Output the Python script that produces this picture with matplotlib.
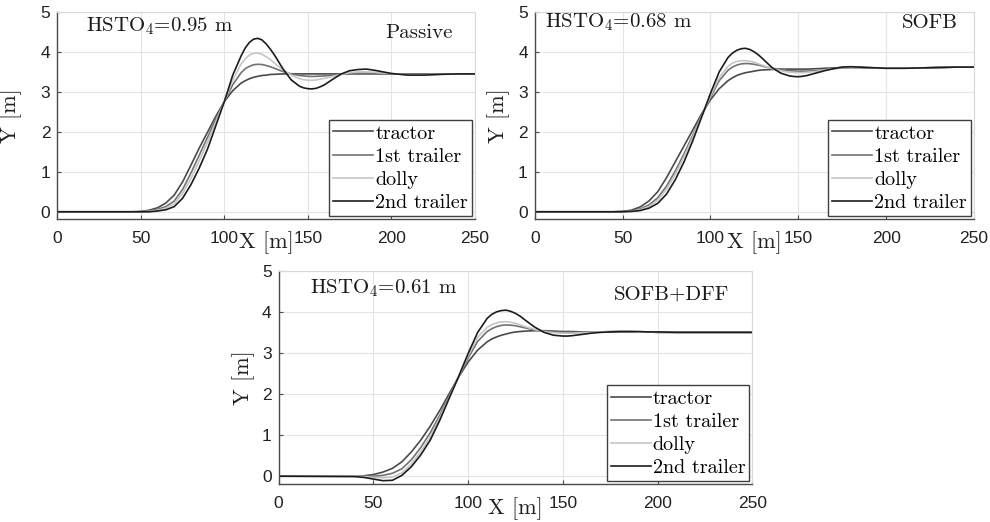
import matplotlib
matplotlib.use('Agg')
import matplotlib.pyplot as plt

plt.rcParams['mathtext.fontset'] = 'cm'

# ===========================================================================================
# DATA: lateral position Y [m] vs longitudinal X [m]

x = [0, 40, 45, 50, 55, 60, 65, 70, 75, 80, 85, 90, 95, 100, 105, 110,
     112.5, 115, 117.5, 120, 122.5, 125, 127.5, 130, 135, 140, 145,
     147.5, 150, 152.5, 155, 157.5, 160, 165, 170, 175, 180, 185, 190, 195, 200,
     210, 220, 230, 240, 250]

labels = ['tractor', '1st trailer', 'dolly', '2nd trailer']

# Passive
passive_tractor = [0, 0, 0, 0.01, 0.04, 0.10, 0.22, 0.42, 0.75, 1.17, 1.60, 2.00, 2.40, 2.76, 3.03, 3.22,
                   3.28, 3.33, 3.365, 3.39, 3.41, 3.42, 3.435, 3.44, 3.45, 3.45, 3.45,
                   3.45, 3.45, 3.45, 3.45, 3.45, 3.45, 3.45, 3.45, 3.45, 3.45, 3.45, 3.45, 3.45, 3.45,
                   3.45, 3.45, 3.45, 3.45, 3.45]
passive_trailer1 = [0, 0, 0, 0.00, 0.02, 0.06, 0.13, 0.27, 0.56, 0.97, 1.42, 1.87, 2.33, 2.76, 3.18, 3.48,
                    3.58, 3.64, 3.68, 3.69, 3.685, 3.66, 3.63, 3.59, 3.51, 3.45, 3.41,
                    3.40, 3.39, 3.385, 3.39, 3.395, 3.40, 3.42, 3.44, 3.46, 3.47, 3.47, 3.47, 3.46, 3.45,
                    3.44, 3.44, 3.45, 3.45, 3.45]
passive_dolly = [0, 0, 0, 0.00, 0.01, 0.04, 0.09, 0.20, 0.46, 0.83, 1.28, 1.75, 2.27, 2.76, 3.30, 3.70,
                 3.83, 3.92, 3.965, 3.97, 3.94, 3.88, 3.81, 3.72, 3.55, 3.42, 3.33,
                 3.305, 3.29, 3.29, 3.30, 3.32, 3.34, 3.39, 3.44, 3.48, 3.50, 3.50, 3.49, 3.47, 3.46,
                 3.43, 3.43, 3.44, 3.45, 3.45]
passive_trailer2 = [0, 0, 0, 0.00, 0.00, 0.02, 0.05, 0.13, 0.34, 0.68, 1.10, 1.58, 2.17, 2.76, 3.42, 3.90,
                    4.10, 4.24, 4.32, 4.34, 4.30, 4.20, 4.07, 3.92, 3.58, 3.30, 3.14,
                    3.10, 3.08, 3.075, 3.09, 3.13, 3.18, 3.32, 3.45, 3.53, 3.56, 3.57, 3.54, 3.50, 3.46,
                    3.42, 3.42, 3.44, 3.45, 3.45]

# SOFB
sofb_tractor = [0, 0, 0, 0.01, 0.04, 0.12, 0.27, 0.50, 0.85, 1.25, 1.65, 2.05, 2.45, 2.80, 3.08, 3.28,
                3.35, 3.41, 3.45, 3.48, 3.50, 3.52, 3.54, 3.55, 3.56, 3.57, 3.57,
                3.57, 3.57, 3.57, 3.57, 3.575, 3.58, 3.59, 3.60, 3.61, 3.61, 3.61, 3.60, 3.60, 3.60,
                3.60, 3.60, 3.61, 3.62, 3.62]
sofb_trailer1 = [0, 0, 0, 0.01, 0.02, 0.07, 0.17, 0.35, 0.64, 1.02, 1.45, 1.92, 2.40, 2.86, 3.28, 3.54,
                 3.62, 3.67, 3.70, 3.71, 3.705, 3.69, 3.67, 3.64, 3.59, 3.56, 3.53,
                 3.525, 3.52, 3.52, 3.52, 3.525, 3.53, 3.55, 3.58, 3.60, 3.61, 3.61, 3.60, 3.60, 3.60,
                 3.60, 3.60, 3.61, 3.62, 3.62]
sofb_dolly = [0, 0, 0, 0.00, 0.01, 0.05, 0.13, 0.29, 0.56, 0.93, 1.38, 1.87, 2.39, 2.90, 3.36, 3.64,
              3.72, 3.76, 3.78, 3.78, 3.765, 3.74, 3.70, 3.66, 3.58, 3.53, 3.49,
              3.485, 3.48, 3.48, 3.49, 3.50, 3.51, 3.55, 3.58, 3.61, 3.62, 3.62, 3.61, 3.60, 3.60,
              3.60, 3.60, 3.61, 3.62, 3.62]
sofb_trailer2 = [0, 0, 0, 0.00, 0.01, 0.03, 0.09, 0.21, 0.44, 0.80, 1.25, 1.78, 2.37, 2.96, 3.50, 3.86,
                 3.97, 4.04, 4.08, 4.09, 4.06, 4.00, 3.92, 3.82, 3.61, 3.47, 3.40,
                 3.385, 3.38, 3.39, 3.41, 3.44, 3.47, 3.53, 3.58, 3.62, 3.63, 3.62, 3.61, 3.60, 3.59,
                 3.59, 3.60, 3.61, 3.62, 3.62]

# SOFB+DFF
dff_tractor = [0, 0.00, 0.01, 0.04, 0.10, 0.19, 0.35, 0.59, 0.88, 1.22, 1.60, 2.01, 2.42, 2.78, 3.07, 3.27,
               3.34, 3.39, 3.43, 3.46, 3.49, 3.51, 3.52, 3.53, 3.54, 3.54, 3.53,
               3.525, 3.52, 3.52, 3.52, 3.515, 3.51, 3.51, 3.51, 3.51, 3.51, 3.51, 3.51, 3.51, 3.50,
               3.50, 3.50, 3.50, 3.50, 3.50]
dff_trailer1 = [0, 0.00, 0.00, 0.00, 0.02, 0.07, 0.18, 0.40, 0.70, 1.06, 1.48, 1.95, 2.42, 2.88, 3.28, 3.52,
                3.59, 3.64, 3.67, 3.68, 3.675, 3.66, 3.635, 3.61, 3.56, 3.53, 3.51,
                3.505, 3.50, 3.50, 3.50, 3.50, 3.50, 3.51, 3.51, 3.52, 3.52, 3.52, 3.51, 3.51, 3.50,
                3.50, 3.50, 3.50, 3.50, 3.50]
dff_dolly = [0, 0.00, -0.01, -0.03, -0.04, -0.02, 0.08, 0.30, 0.60, 0.96, 1.42, 1.92, 2.43, 2.94, 3.38, 3.62,
             3.69, 3.73, 3.755, 3.76, 3.745, 3.72, 3.68, 3.64, 3.57, 3.52, 3.49,
             3.485, 3.48, 3.48, 3.48, 3.485, 3.49, 3.50, 3.51, 3.52, 3.52, 3.52, 3.51, 3.51, 3.50,
             3.50, 3.50, 3.50, 3.50, 3.50]
dff_trailer2 = [0, -0.01, -0.03, -0.07, -0.11, -0.10, 0.02, 0.23, 0.52, 0.88, 1.36, 1.90, 2.43, 2.99, 3.50, 3.84,
                3.94, 4.00, 4.03, 4.04, 4.01, 3.96, 3.89, 3.80, 3.63, 3.50, 3.43,
                3.42, 3.41, 3.41, 3.42, 3.435, 3.45, 3.48, 3.50, 3.51, 3.52, 3.52, 3.52, 3.51, 3.51,
                3.50, 3.50, 3.50, 3.50, 3.50]

# ===========================================================================================

colors = ['#4a4a4a', '#727272', '#c6c6c6', '#1c1c1c']
serif = 'cmr10'

panels = [
    # axes rect, curves, HSTO text, controller, HSTO pos, controller pos, ylim bottom, ylabel x
    ([0.0579, 0.5805, 0.4219, 0.3966],
     [passive_tractor, passive_trailer1, passive_dolly, passive_trailer2],
     'HSTO$_4$=0.95 m', 'Passive', (0.069, 0.93), (0.947, 0.90), -0.18, -0.085),
    ([0.5401, 0.5805, 0.4437, 0.3966],
     [sofb_tractor, sofb_trailer1, sofb_dolly, sofb_trailer2],
     'HSTO$_4$=0.68 m', 'SOFB', (0.023, 0.948), (0.964, 0.948), -0.18, -0.056),
    ([0.2815, 0.0728, 0.4786, 0.4086],
     [dff_tractor, dff_trailer1, dff_dolly, dff_trailer2],
     'HSTO$_4$=0.61 m', 'SOFB+DFF', (0.067, 0.919), (0.95, 0.89), -0.19, -0.05),
]

fig = plt.figure(figsize=(9.9, 5.22), dpi=100)

for rect, curves, hsto, ctrl, hsto_pos, ctrl_pos, ybot, ylab_x in panels:
    ax = fig.add_axes(rect)
    for y, c, lab in zip(curves, colors, labels):
        ax.plot(x, y, color=c, linewidth=1.2, label=lab)

    ax.set_xlim(0, 250)
    ax.set_ylim(ybot, 5)
    ax.set_xticks([0, 50, 100, 150, 200, 250])
    ax.set_yticks([0, 1, 2, 3, 4, 5])
    ax.grid(True, color='#e4e4e4', linewidth=0.8)
    ax.set_axisbelow(True)

    for side in ['top', 'right']:
        ax.spines[side].set_color('#d8d8d8')
    for side in ['left', 'bottom']:
        ax.spines[side].set_color('#4a4a4a')
        ax.spines[side].set_linewidth(1.0)
    ax.tick_params(direction='in', length=3, width=0.8, color='#4a4a4a',
                   labelsize=12.5, labelcolor='#222222')
    ax.tick_params(axis='x', pad=8.5)
    ax.tick_params(axis='y', pad=5)
    for t in ax.get_xticklabels() + ax.get_yticklabels():
        t.set_fontfamily('Liberation Sans')

    ax.set_xlabel('X [m]', fontfamily=serif, fontsize=16, color='#222222')
    ax.xaxis.set_label_coords(0.5, -0.061)
    ax.set_ylabel('Y [m]', fontfamily=serif, fontsize=16, color='#222222')
    ax.yaxis.set_label_coords(ylab_x, 0.5)

    ax.text(hsto_pos[0], hsto_pos[1], hsto, transform=ax.transAxes, fontfamily=serif,
            fontsize=15, ha='left', va='center', color='#1a1a1a')
    ax.text(ctrl_pos[0], ctrl_pos[1], ctrl, transform=ax.transAxes, fontfamily=serif,
            fontsize=15, ha='right', va='center', color='#1a1a1a')

    leg = ax.legend(loc='lower right', bbox_to_anchor=(1.0, 0.0), borderaxespad=0.15,
                    prop={'family': serif, 'size': 14.5}, fancybox=False, framealpha=1,
                    edgecolor='#404040', handlelength=2.0, handletextpad=0.1,
                    labelspacing=0.25, borderpad=0.2)
    leg.get_frame().set_linewidth(1.0)

fig.savefig('out.png', dpi=100)
